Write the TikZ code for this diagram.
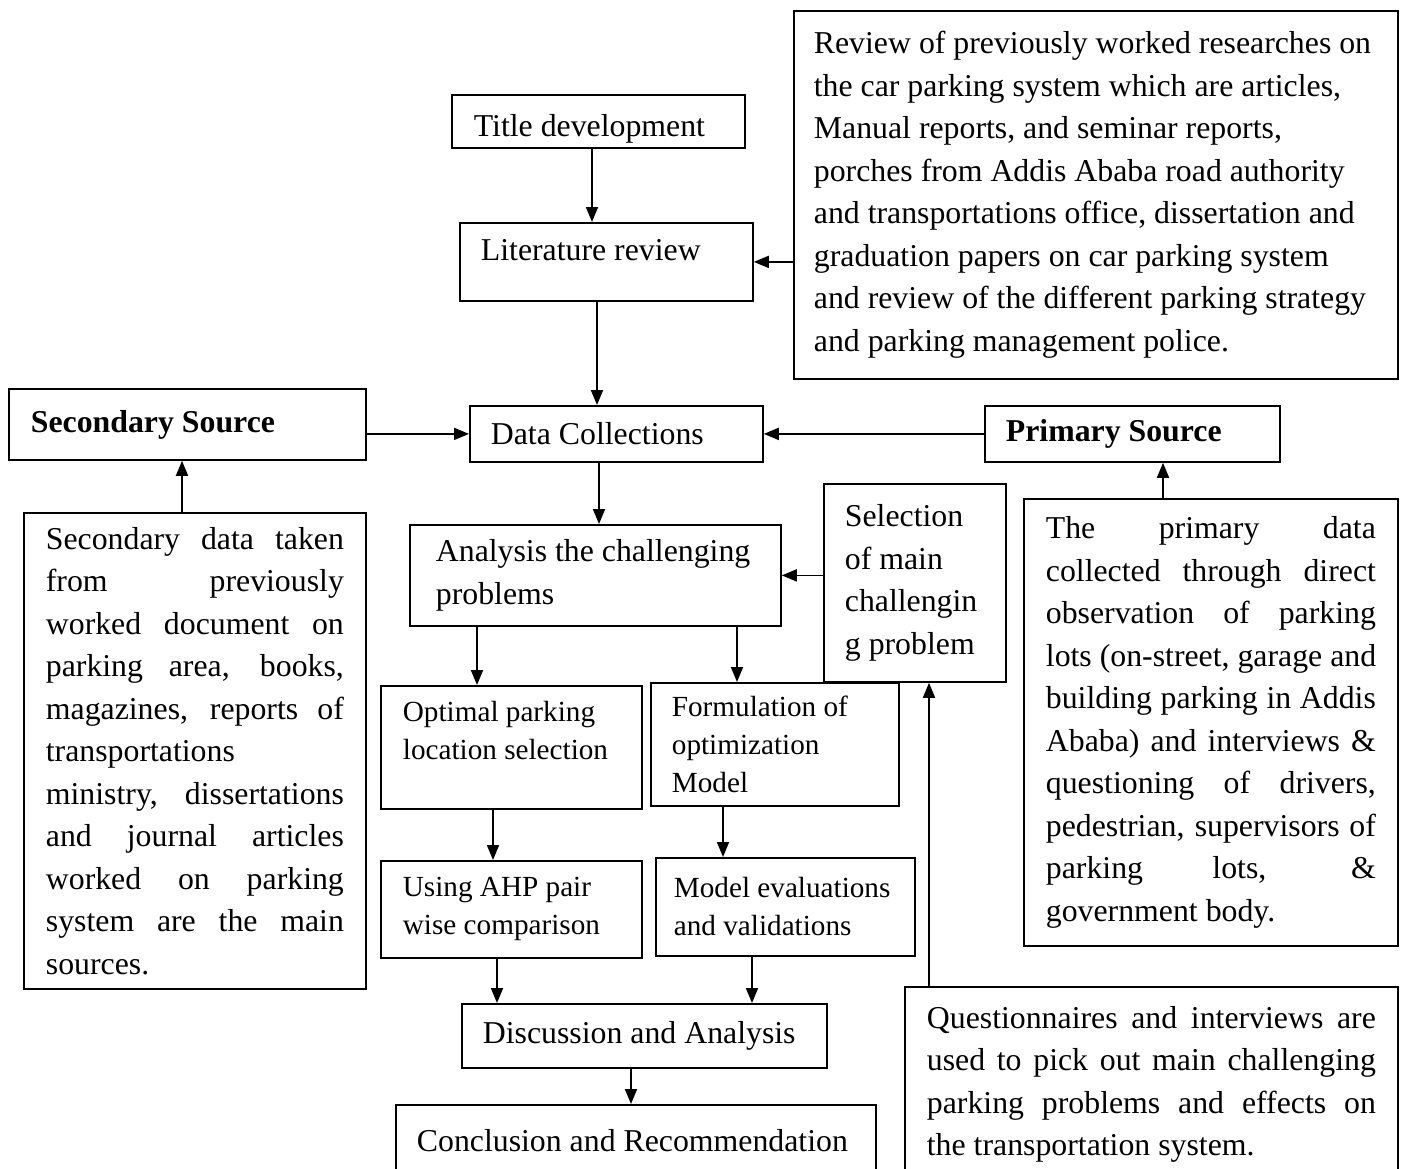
\documentclass[tikz,border=0pt]{standalone}
\usepackage{fontspec}
\setmainfont{Liberation Serif}
\usetikzlibrary{arrows.meta}
\newcommand{\jl}[1]{\makebox[\hsize][s]{\spaceskip=0.25em plus 1fil\relax #1}}
\tikzset{
  box/.style={draw, line width=1.8pt, anchor=north west, inner ysep=0pt,
    font=\fontsize{31.8}{42.5}\selectfont,
    execute at begin node={\spaceskip=0pt\xspaceskip=0pt}},
  smallbox/.style={box, font=\fontsize{29.2}{38}\selectfont},
  arr/.style={line width=1.8pt, -{Triangle[length=15pt,width=12pt]}},
}
\begin{document}
\begin{tikzpicture}[x=1pt,y=1pt,yscale=-1,xscale=1]
\useasboundingbox (0,0) rectangle (1401,1168);
% Top column
\node[box, inner xsep=22pt, text width=249pt, minimum height=53pt] (title) at (451,94) {\mbox{}\\[-6.5pt]Title development};
\node[box, inner xsep=21pt, text width=251pt, minimum height=78pt] (lit) at (459,222) {Literature review\\[-18.5pt]\mbox{}};
\node[box, inner xsep=20pt, text width=564pt, minimum height=368pt] (rev) at (793,10) {Review of previously worked researches on\\
  the car parking system which are articles,\\
  Manual reports, and seminar reports,\\
  porches from Addis Ababa road authority\\
  and transportations office, dissertation and\\
  graduation papers on car parking system\\
  and review of the different parking strategy\\
  and parking management police.};
% Data collection row
\node[box, inner xsep=22pt, text width=313pt, minimum height=71pt] (sec) at (8,388) {\textbf{Secondary Source}};
\node[box, inner xsep=21pt, text width=251pt, minimum height=56pt] (data) at (469,405) {Data Collections};
\node[box, inner xsep=21pt, text width=253pt, minimum height=56pt] (prim) at (984,405) {\textbf{Primary Source}};
% Sources
\node[box, inner xsep=22pt, text width=298pt, minimum height=476pt] (secdata) at (23,512) {\jl{Secondary data taken}\\
  \jl{from previously}\\
  \jl{worked document on}\\
  \jl{parking area, books,}\\
  \jl{magazines, reports of}\\
  transportations\\
  \jl{ministry, dissertations}\\
  \jl{and journal articles}\\
  \jl{worked on parking}\\
  \jl{system are the main}\\
  sources.};
\node[box, inner xsep=22pt, text width=330pt, minimum height=447pt] (primdata) at (1023,498) {\jl{The primary data}\\
  \jl{collected through direct}\\
  \jl{observation of parking}\\
  \jl{lots (on-street, garage and}\\
  \jl{building parking in Addis}\\
  \jl{Ababa) and interviews \&}\\
  \jl{questioning of drivers,}\\
  \jl{pedestrian, supervisors of}\\
  \jl{parking lots, \&}\\
  government body.};
% Analysis
\node[box, inner xsep=26pt, text width=319pt, minimum height=101pt] (ana) at (409,524) {Analysis the challenging\\problems};
\node[box, inner xsep=21pt, text width=140pt, minimum height=198pt] (sel) at (823,483) {Selection\\of main\\challengin\\g problem};
\node[smallbox, inner xsep=22pt, text width=217pt, minimum height=123pt] (opt) at (380,685) {Optimal parking\\location selection\\[-3pt]\mbox{}};
\node[smallbox, inner xsep=21pt, text width=206pt, minimum height=123pt] (form) at (650,682) {Formulation of\\optimization\\Model};
\node[smallbox, inner xsep=22pt, text width=217pt, minimum height=97pt] (ahp) at (380,860) {Using AHP pair\\wise comparison};
\node[smallbox, inner xsep=18pt, text width=223pt, minimum height=98pt] (eval) at (655,857) {Model evaluations\\and validations};
% Bottom
\node[box, inner xsep=21pt, text width=323pt, minimum height=64pt] (disc) at (461,1003) {Discussion and Analysis};
\node[box, inner xsep=21pt, text width=438pt, minimum height=72pt] (concl) at (395,1104) {Conclusion and Recommendation};
\node[box, inner xsep=22pt, text width=449pt, minimum height=195pt] (quest) at (904,986) {\jl{Questionnaires and interviews are}\\
  \jl{used to pick out main challenging}\\
  \jl{parking problems and effects on}\\
  the transportation system.};
% Connectors
\draw[arr] (592,0 |- title.south) -- (592,0 |- lit.north);
\draw[arr] (rev.west |- lit.east) -- (lit.east);
\draw[arr] (597,0 |- lit.south) -- (597,0 |- data.north);
\draw[arr] (sec.east |- data.west) -- (data.west);
\draw[arr] (prim.west) -- (data.east);
\draw[arr] (182,0 |- secdata.north) -- (182,0 |- sec.south);
\draw[arr] (1163,0 |- primdata.north) -- (1163,0 |- prim.south);
\draw[arr] (599,0 |- data.south) -- (599,0 |- ana.north);
\draw[arr] (sel.west |- ana.east) -- (ana.east);
\draw[arr] (477,0 |- ana.south) -- (477,0 |- opt.north);
\draw[arr] (737,0 |- ana.south) -- (737,0 |- form.north);
\draw[arr] (493,0 |- opt.south) -- (493,0 |- ahp.north);
\draw[arr] (723,0 |- form.south) -- (723,0 |- eval.north);
\draw[arr] (497,0 |- ahp.south) -- (497,0 |- disc.north);
\draw[arr] (752,0 |- eval.south) -- (752,0 |- disc.north);
\draw[arr] (631,0 |- disc.south) -- (631,0 |- concl.north);
\draw[arr] (929,0 |- quest.north) -- (929,0 |- sel.south);
\end{tikzpicture}
\end{document}
